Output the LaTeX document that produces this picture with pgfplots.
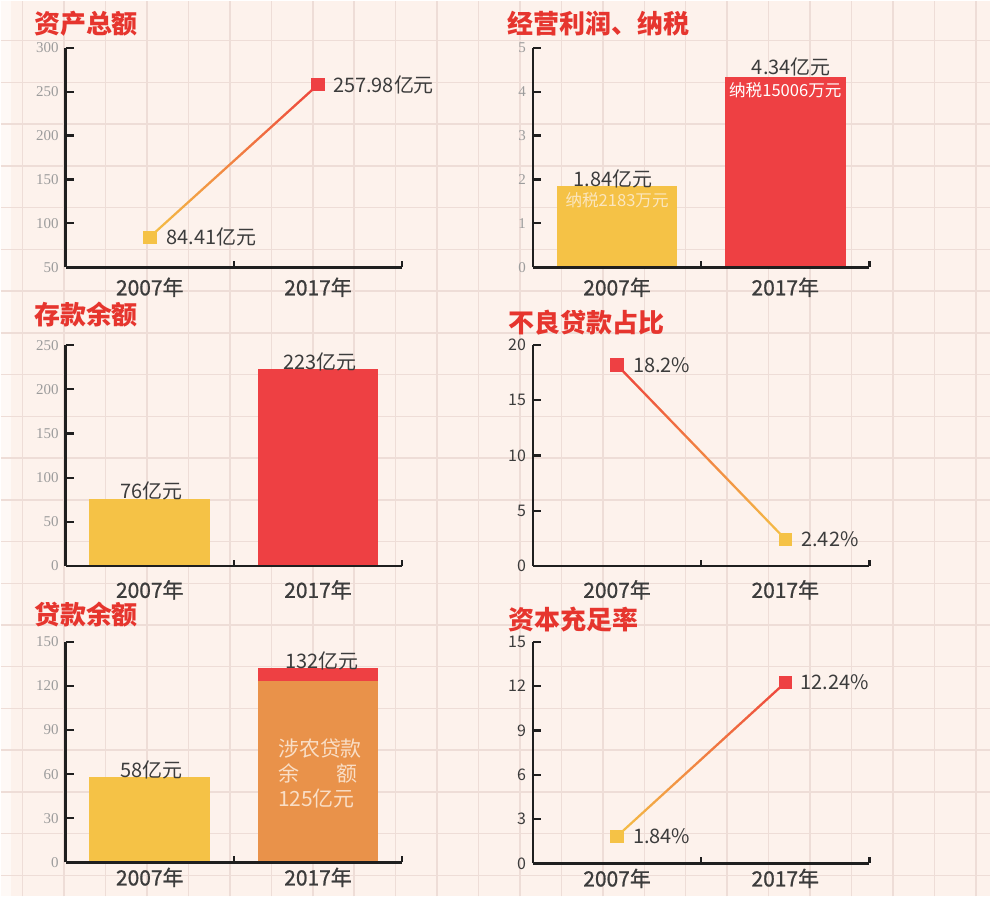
\documentclass[border=0pt]{standalone}
\usepackage{fontspec}
\setmainfont{Noto Sans CJK SC}
\newfontfamily\numserif{Liberation Serif}
\newfontfamily\medfont{Noto Sans CJK SC}[FakeBold=0.9]
\usepackage{pgfplots}
\pgfplotsset{compat=1.18}
\usetikzlibrary{fadings}
\definecolor{bg}{HTML}{FDF2EC}
\definecolor{gridc}{HTML}{EEDDD7}
\definecolor{ttl}{HTML}{E6352E}
\definecolor{yel}{HTML}{F5C246}
\definecolor{redb}{HTML}{EE4043}
\definecolor{org}{HTML}{E9924A}
\definecolor{txt}{HTML}{3C3C3C}
\definecolor{tickg}{HTML}{9C9C9C}
\definecolor{cream}{HTML}{FBE6BE}
\definecolor{cream2}{HTML}{F9DEC6}
\tikzset{
  lab/.style={font=\fontsize{10}{12}\selectfont, text=txt},
  ttlst/.style={anchor=west, font=\fontsize{13}{15}\selectfont\bfseries, text=ttl, inner sep=0pt},
}
\pgfplotsset{
  panel/.style={
    anchor=origin, scale only axis, width=168.5pt,
    xmin=0, xmax=2, clip=false, axis on top,
    axis lines=left, axis line style={-, line width=1.3pt, draw=black!88},
    xtick={0.5,1.5}, xticklabels={2007年,2017年},
    major x tick style={draw=none},
    minor xtick={1,2}, minor tick length=3pt,
    minor x tick style={line width=1.1pt, draw=black!88},
    major tick length=4pt,
    y tick style={line width=1.1pt, draw=black!88},
    tick align=inside,
    /pgf/number format/assume math mode=true,
    xticklabel style={font=\medfont\fontsize{10.5}{12}\selectfont, text=txt, anchor=center},
    yticklabel style={font=\numserif\fontsize{7.5}{8}\selectfont, text=tickg},
  },
  sansy/.style={yticklabel style={font=\fontsize{8}{9}\selectfont, text=txt}},
  mk/.style={only marks, mark=square*, mark size=3.1pt},
  base/.style={no markers, yel, line width=1.1pt},
  over/.style={no markers, redb, line width=1.1pt, path fading=#1},
}
\begin{document}
\begin{tikzpicture}
\fill[bg] (0,0) rectangle (495.5pt,448.5pt);
\fill[white!55!bg] (0,0) rectangle (5pt,448.5pt);
\foreach \k in {0,...,23}{\pgfmathsetmacro\xx{11+20.75*\k}
  \draw[gridc, line width=0.75pt] (\xx pt,0) -- (\xx pt,448.5pt);}
\foreach \k in {0,...,20}{\pgfmathsetmacro\yy{428.5-20.9*\k}
  \draw[gridc, line width=0.75pt] (0,\yy pt) -- (495.5pt,\yy pt);}

\node[ttlst] at (16.5pt,437pt) {资产总额};
\node[ttlst] at (253.5pt,437pt) {经营利润、纳税};
\node[ttlst] at (16.5pt,291.5pt) {存款余额};
\node[ttlst] at (254pt,287.5pt) {不良贷款占比};
\node[ttlst] at (16.5pt,141pt) {贷款余额};
\node[ttlst] at (254pt,138.5pt) {资本充足率};

% Panel 1
\begin{axis}[panel, at={(32.5pt,315pt)}, height=110pt, ymin=50, ymax=300,
  ytick={50,100,...,300}, xticklabel style={yshift=-10pt}]
\addplot[base] coordinates {(0.5,84.41) (1.5,257.98)};
\addplot[over=west] coordinates {(0.5,84.41) (1.5,257.98)};
\addplot[mk, yel] coordinates {(0.5,84.41)};
\addplot[mk, redb] coordinates {(1.5,257.98)};
\node[lab, anchor=west, xshift=5pt] at (axis cs:0.5,84.41) {84.41亿元};
\node[lab, anchor=west, xshift=4pt] at (axis cs:1.5,257.98) {257.98亿元};
\end{axis}

% Panel 2
\begin{axis}[panel, at={(266.5pt,315pt)}, height=110pt, ymin=0, ymax=5,
  ytick={0,1,...,5}, xticklabel style={yshift=-10pt}]
\addplot[ybar, bar shift=0pt, bar width=60.5pt, fill=yel, draw=none] coordinates {(0.5,1.84)};
\addplot[ybar, bar shift=0pt, bar width=60.5pt, fill=redb, draw=none] coordinates {(1.5,4.34)};
\node[lab, anchor=base, xshift=-2pt] at (axis cs:0.5,1.84) {1.84亿元};
\node[font=\fontsize{8.3}{10}\selectfont, text=cream, yshift=-7pt] at (axis cs:0.5,1.84) {纳税2183万元};
\node[lab, anchor=base, xshift=3pt, yshift=1pt] at (axis cs:1.5,4.34) {4.34亿元};
\node[font=\fontsize{8.3}{10}\selectfont, text=white, yshift=-7pt] at (axis cs:1.5,4.34) {纳税15006万元};
\end{axis}

% Panel 3
\begin{axis}[panel, at={(32.5pt,165.5pt)}, height=110.5pt, ymin=0, ymax=250,
  ytick={0,50,...,250}, xticklabel style={yshift=-12pt}]
\addplot[ybar, bar shift=0pt, bar width=60.5pt, fill=yel, draw=none] coordinates {(0.5,76)};
\addplot[ybar, bar shift=0pt, bar width=60.5pt, fill=redb, draw=none] coordinates {(1.5,223)};
\node[lab, anchor=base, xshift=1pt] at (axis cs:0.5,76) {76亿元};
\node[lab, anchor=base, xshift=1pt] at (axis cs:1.5,223) {223亿元};
\end{axis}

% Panel 4
\begin{axis}[panel, sansy, at={(266.5pt,165.5pt)}, height=110.5pt, ymin=0, ymax=20,
  ytick={0,5,...,20}, xticklabel style={yshift=-12pt}]
\addplot[base] coordinates {(0.5,18.2) (1.5,2.42)};
\addplot[over=east] coordinates {(0.5,18.2) (1.5,2.42)};
\addplot[mk, redb] coordinates {(0.5,18.2)};
\addplot[mk, yel] coordinates {(1.5,2.42)};
\node[lab, anchor=west, xshift=4.5pt] at (axis cs:0.5,18.2) {18.2\%};
\node[lab, anchor=west, xshift=4.5pt] at (axis cs:1.5,2.42) {2.42\%};
\end{axis}

% Panel 5
\begin{axis}[panel, at={(32.5pt,17pt)}, height=110.5pt, ymin=0, ymax=150,
  ytick={0,30,...,150}, xticklabel style={yshift=-7.5pt}]
\addplot[ybar, bar shift=0pt, bar width=60.5pt, fill=yel, draw=none] coordinates {(0.5,58)};
\addplot[ybar, bar shift=0pt, bar width=60.5pt, fill=redb, draw=none] coordinates {(1.5,132)};
\addplot[ybar, bar shift=0pt, bar width=60.5pt, fill=org, draw=none] coordinates {(1.5,123)};
\node[lab, anchor=base, xshift=1pt] at (axis cs:0.5,58) {58亿元};
\node[lab, anchor=base, xshift=2pt] at (axis cs:1.5,132) {132亿元};
\node[font=\fontsize{10.5}{12.5}\selectfont, text=cream2, text width=4em, align=left, inner sep=0pt]
  at (axis cs:1.5,60.5) {涉农贷款\\余\hfill 额\\125亿元};
\end{axis}

% Panel 6
\begin{axis}[panel, sansy, at={(266.5pt,16.5pt)}, height=111pt, ymin=0, ymax=15,
  ytick={0,3,...,15}, xticklabel style={yshift=-7.5pt}]
\addplot[base] coordinates {(0.5,1.84) (1.5,12.24)};
\addplot[over=west] coordinates {(0.5,1.84) (1.5,12.24)};
\addplot[mk, yel] coordinates {(0.5,1.84)};
\addplot[mk, redb] coordinates {(1.5,12.24)};
\node[lab, anchor=west, xshift=4.5pt] at (axis cs:0.5,1.84) {1.84\%};
\node[lab, anchor=west, xshift=4pt] at (axis cs:1.5,12.24) {12.24\%};
\end{axis}
\path[use as bounding box] (0,0) rectangle (495.5pt,448.5pt);
\end{tikzpicture}
\end{document}
